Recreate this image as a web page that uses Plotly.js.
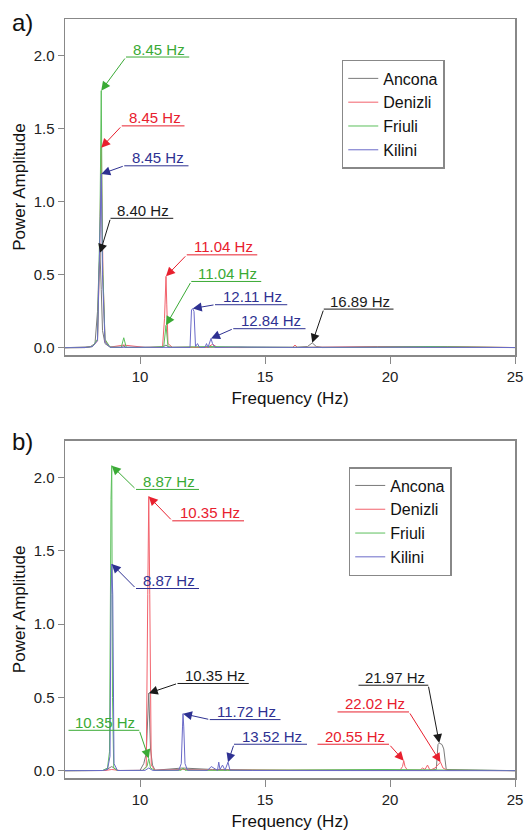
<!DOCTYPE html>
<html>
<head>
<meta charset="utf-8">
<script src="https://cdn.plot.ly/plotly-3.0.1.min.js"></script>
<style>html,body{margin:0;padding:0;background:#fff;}#chart{width:529px;height:833px;}</style>
</head>
<body>
<div id="chart"></div>
<script>
// ---------- Panel a) spectra ----------
const freqA_Ancona = [7.0, 7.6, 8.0, 8.2, 8.3, 8.35, 8.40, 8.45, 8.5, 8.6, 8.8, 9.3, 9.35, 9.4, 10.5, 10.9, 11.04, 11.15, 12.1, 12.2, 14.0, 16.2, 16.7, 16.89, 17.05, 17.3, 19.5, 22.3, 25.0];
const ampA_Ancona  = [0.002, 0.003, 0.008, 0.03, 0.25, 0.5, 0.65, 0.4, 0.12, 0.03, 0.006, 0.004, 0.02, 0.004, 0.005, 0.006, 0.02, 0.005, 0.006, 0.004, 0.006, 0.004, 0.01, 0.035, 0.01, 0.003, 0.005, 0.004, 0.003];

const freqA_Denizli = [7.0, 7.8, 8.1, 8.3, 8.38, 8.45, 8.52, 8.6, 8.8, 9.35, 10.2, 10.9, 10.98, 11.02, 11.04, 11.07, 11.12, 11.3, 12.7, 12.9, 13.1, 14.0, 16.1, 16.2, 16.3, 19.5, 22.3, 25.0];
const ampA_Denizli  = [0.002, 0.003, 0.01, 0.05, 0.6, 1.37, 0.5, 0.05, 0.006, 0.02, 0.004, 0.006, 0.2, 0.48, 0.49, 0.3, 0.03, 0.004, 0.005, 0.025, 0.004, 0.003, 0.004, 0.02, 0.004, 0.01, 0.01, 0.003];

const freqA_Friuli = [7.0, 7.8, 8.1, 8.3, 8.4, 8.45, 8.5, 8.6, 8.8, 9.25, 9.35, 9.45, 10.4, 10.95, 11.04, 11.12, 11.3, 12.8, 14.3, 17.0, 18.2, 21.6, 24.1, 25.0];
const ampA_Friuli  = [0.002, 0.003, 0.01, 0.06, 0.9, 1.76, 0.6, 0.06, 0.006, 0.004, 0.07, 0.004, 0.004, 0.01, 0.155, 0.01, 0.004, 0.01, 0.005, 0.004, 0.004, 0.01, 0.008, 0.003];

const freqA_Kilini = [7.0, 7.8, 8.1, 8.3, 8.4, 8.45, 8.5, 8.6, 8.8, 10.5, 12.0, 12.06, 12.11, 12.16, 12.22, 12.3, 12.38, 12.6, 12.66, 12.72, 12.8, 12.84, 12.9, 13.0, 13.9, 16.3, 20.5, 22.3, 25.0];
const ampA_Kilini  = [0.002, 0.003, 0.01, 0.05, 0.8, 1.19, 0.5, 0.04, 0.005, 0.004, 0.004, 0.26, 0.27, 0.25, 0.01, 0.03, 0.004, 0.004, 0.03, 0.004, 0.04, 0.065, 0.03, 0.004, 0.006, 0.004, 0.006, 0.006, 0.003];

// ---------- Panel b) spectra ----------
const freqB_Ancona = [7.0, 8.6, 8.87, 9.1, 10.0, 10.15, 10.25, 10.35, 10.42, 10.5, 10.6, 11.7, 12.9, 13.2, 16.0, 19.9, 21.5, 21.85, 21.92, 21.97, 22.08, 22.15, 22.25, 25.0];
const ampB_Ancona  = [0.002, 0.003, 0.03, 0.003, 0.004, 0.05, 0.12, 0.53, 0.15, 0.04, 0.005, 0.02, 0.01, 0.01, 0.003, 0.004, 0.005, 0.01, 0.18, 0.19, 0.18, 0.15, 0.01, 0.002];

const freqB_Denizli = [7.0, 8.6, 8.87, 9.2, 10.1, 10.25, 10.31, 10.35, 10.39, 10.45, 10.6, 11.7, 13.0, 16.5, 19.0, 20.4, 20.5, 20.55, 20.6, 20.7, 21.2, 21.3, 21.4, 21.5, 21.6, 21.8, 22.02, 22.12, 22.3, 25.0];
const ampB_Denizli  = [0.002, 0.003, 0.01, 0.003, 0.004, 0.03, 1.2, 1.87, 1.2, 0.04, 0.005, 0.01, 0.006, 0.004, 0.004, 0.005, 0.03, 0.07, 0.03, 0.005, 0.005, 0.02, 0.01, 0.04, 0.005, 0.02, 0.06, 0.02, 0.004, 0.002];

const freqB_Friuli = [7.0, 8.5, 8.7, 8.78, 8.84, 8.87, 8.9, 8.95, 9.1, 10.1, 10.28, 10.35, 10.42, 10.6, 11.65, 11.72, 11.8, 13.5, 19.8, 22.0, 25.0];
const ampB_Friuli  = [0.002, 0.003, 0.02, 0.13, 1.85, 2.08, 0.5, 0.02, 0.003, 0.003, 0.03, 0.085, 0.02, 0.003, 0.005, 0.02, 0.005, 0.004, 0.01, 0.005, 0.002];

const freqB_Kilini = [7.0, 8.5, 8.7, 8.8, 8.84, 8.87, 8.91, 8.96, 9.1, 10.2, 10.35, 10.5, 11.55, 11.65, 11.7, 11.72, 11.75, 11.8, 11.9, 12.7, 12.85, 12.95, 13.1, 13.15, 13.2, 13.3, 13.4, 13.52, 13.6, 14.5, 18.0, 21.0, 25.0];
const ampB_Kilini  = [0.002, 0.003, 0.01, 0.1, 1.2, 1.41, 1.2, 0.05, 0.003, 0.004, 0.02, 0.004, 0.005, 0.05, 0.3, 0.39, 0.3, 0.05, 0.005, 0.004, 0.03, 0.02, 0.004, 0.06, 0.01, 0.04, 0.005, 0.06, 0.005, 0.003, 0.003, 0.003, 0.002];

const seriesNames = ['Ancona', 'Denizli', 'Friuli', 'Kilini'];
const xTickVals = [10, 15, 20, 25];
const yTickVals = [0.0, 0.5, 1.0, 1.5, 2.0];

// labelled peaks: series, peak frequency (Hz)
const peaksA_series = ['Friuli', 'Denizli', 'Kilini', 'Ancona', 'Denizli', 'Friuli', 'Kilini', 'Kilini', 'Ancona'];
const peaksA_freq   = [8.45, 8.45, 8.45, 8.40, 11.04, 11.04, 12.11, 12.84, 16.89];
const peaksB_series = ['Friuli', 'Denizli', 'Kilini', 'Ancona', 'Friuli', 'Kilini', 'Kilini', 'Denizli', 'Denizli', 'Ancona'];
const peaksB_freq   = [8.87, 10.35, 8.87, 10.35, 10.35, 11.72, 13.52, 20.55, 22.02, 21.97];

// ---------- styling / placement ----------
const lineColor = {Ancona: '#7a7a7a', Denizli: '#f2616b', Friuli: '#5cbf5c', Kilini: '#6a6ac8'};
const textColor = {Ancona: '#1a1a1a', Denizli: '#e8202e', Friuli: '#3aaa35', Kilini: '#2e3192'};
// underline placement for each label [x0, x1, y, leader side]
const placeA = [
  [9.44, 11.97, 1.990, 'l'], [9.27, 11.78, 1.519, 'l'], [9.37, 11.94, 1.246, 'l'],
  [8.82, 11.33, 0.887, 'l'], [11.87, 14.69, 0.637, 'l'], [12.05, 14.85, 0.455, 'l'],
  [13.00, 15.89, 0.296, 'l'], [13.73, 16.62, 0.132, 'l'], [17.35, 20.14, 0.266, 'l']
];
const placeB = [
  [9.84, 12.36, 1.918, 'l'], [11.29, 14.16, 1.704, 'l'], [9.84, 12.36, 1.243, 'l'],
  [11.50, 14.35, 0.596, 'l'], [7.14, 9.97, 0.277, 'r'], [12.79, 15.62, 0.350, 'l'],
  [13.76, 16.68, 0.182, 'l'], [17.10, 19.96, 0.182, 'r'], [17.90, 20.76, 0.402, 'r'],
  [18.74, 21.53, 0.584, 'r']
];

const dataA = {Ancona: [freqA_Ancona, ampA_Ancona], Denizli: [freqA_Denizli, ampA_Denizli],
               Friuli: [freqA_Friuli, ampA_Friuli], Kilini: [freqA_Kilini, ampA_Kilini]};
const dataB = {Ancona: [freqB_Ancona, ampB_Ancona], Denizli: [freqB_Denizli, ampB_Denizli],
               Friuli: [freqB_Friuli, ampB_Friuli], Kilini: [freqB_Kilini, ampB_Kilini]};

const FONT = 'Arial, "Liberation Sans", Helvetica, sans-serif';
const traces = [];
seriesNames.forEach(n => {
  traces.push({x: dataA[n][0], y: dataA[n][1], type: 'scatter', mode: 'lines', name: n,
    line: {color: lineColor[n], width: 1}, xaxis: 'x', yaxis: 'y', legend: 'legend'});
});
seriesNames.forEach(n => {
  traces.push({x: dataB[n][0], y: dataB[n][1], type: 'scatter', mode: 'lines', name: n,
    line: {color: lineColor[n], width: 1}, xaxis: 'x2', yaxis: 'y2', legend: 'legend2'});
});

const annotations = [];
const shapes = [];
function addLabels(names, freqs, place, data, xr, yr) {
  names.forEach((n, i) => {
    const f = freqs[i];
    const fx = data[n][0], fy = data[n][1];
    const idx = fx.findIndex(v => Math.abs(v - f) < 1e-9);
    const tipY = fy[idx];
    const [x0, x1, yy, side] = place[i];
    const col = textColor[n];
    shapes.push({type: 'line', xref: xr, yref: yr, x0: x0, x1: x1, y0: yy, y1: yy,
      line: {color: col, width: 1}});
    annotations.push({xref: xr, yref: yr, x: f, y: tipY, axref: xr, ayref: yr,
      ax: side === 'l' ? x0 : x1, ay: yy, text: '', showarrow: true,
      arrowhead: 2, arrowsize: 1.8, arrowwidth: 1, arrowcolor: col, standoff: 0, startstandoff: 0});
    annotations.push({xref: xr, yref: yr, x: (x0 + x1) / 2 + 0.06, y: yy, yshift: 8,
      text: f.toFixed(2) + ' Hz', showarrow: false, xanchor: 'center', yanchor: 'middle',
      font: {family: FONT, size: 15, color: col}});
  });
}
addLabels(peaksA_series, peaksA_freq, placeA, dataA, 'x', 'y');
addLabels(peaksB_series, peaksB_freq, placeB, dataB, 'x2', 'y2');

annotations.push({xref: 'paper', yref: 'paper', x: -0.095, y: 0.996, text: 'a)', showarrow: false,
  xanchor: 'center', yanchor: 'middle', font: {family: FONT, size: 24, color: '#111'}});
annotations.push({xref: 'paper', yref: 'paper', x: -0.095, y: 0.443, text: 'b)', showarrow: false,
  xanchor: 'center', yanchor: 'middle', font: {family: FONT, size: 24, color: '#111'}});

function xAxis(anchor) {
  return {anchor: anchor, range: [7, 25], tickvals: xTickVals, ticks: 'outside', ticklen: 7,
    tickcolor: '#888', tickwidth: 1, showline: true, mirror: true, linecolor: '#888', linewidth: 1.5,
    showgrid: false, zeroline: false, tickfont: {family: FONT, size: 15, color: '#222'},
    title: {text: 'Frequency (Hz)', font: {family: FONT, size: 17, color: '#111'}, standoff: 8}};
}
function yAxis(anchor, dom) {
  return {anchor: anchor, domain: dom, range: [-0.048, 2.25], tickvals: yTickVals, tickformat: '.1f',
    ticks: 'outside', ticklen: 6, tickcolor: '#888', tickwidth: 1, showline: true, mirror: true,
    linecolor: '#888', linewidth: 1.5, showgrid: false, zeroline: false,
    tickfont: {family: FONT, size: 15, color: '#222'}, automargin: true,
    title: {text: 'Power Amplitude', font: {family: FONT, size: 17, color: '#111'}, standoff: 3}};
}
const legendStyle = (x, y) => ({x: x, y: y, xanchor: 'left', yanchor: 'top', bgcolor: '#fff',
  bordercolor: '#888', borderwidth: 1.5, font: {family: FONT, size: 16, color: '#111'},
  tracegroupgap: 0});

const layout = {
  width: 529, height: 833,
  margin: {l: 65, r: 12, t: 19, b: 55},
  paper_bgcolor: '#fff', plot_bgcolor: '#fff',
  showlegend: true,
  xaxis: xAxis('y'), yaxis: yAxis('x', [0.5573, 1]),
  xaxis2: xAxis('y2'), yaxis2: yAxis('x2', [0, 0.4444]),
  legend: legendStyle(0.615, 0.946),
  legend2: legendStyle(0.6305, 0.4097),
  annotations: annotations, shapes: shapes
};
Plotly.newPlot('chart', traces, layout, {displayModeBar: false, staticPlot: true});
</script>
</body>
</html>
